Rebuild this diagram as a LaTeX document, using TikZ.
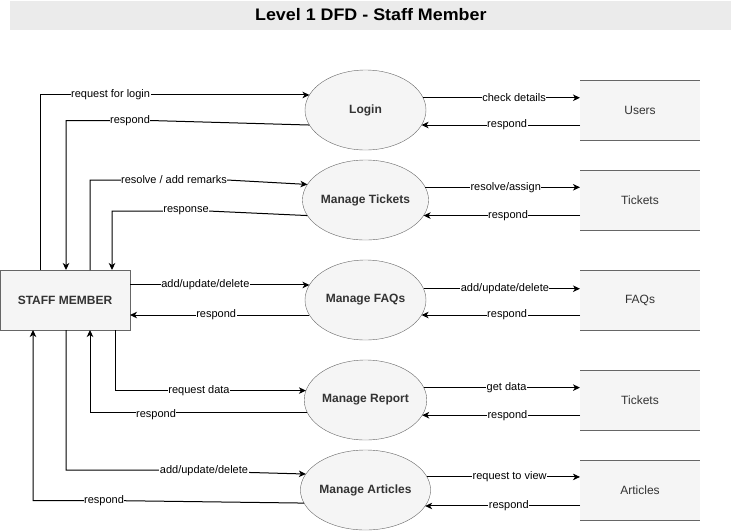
\documentclass[tikz,border=0pt]{standalone}
\usepackage{fontspec}
\setmainfont{Liberation Sans}
\usetikzlibrary{arrows.meta,shapes.geometric}
\definecolor{bord}{HTML}{666666}
\definecolor{fillg}{HTML}{F5F5F5}
\definecolor{txtg}{HTML}{333333}
\definecolor{band}{HTML}{EBEBEB}
\tikzset{
  proc/.style={ellipse, draw=bord, fill=fillg, minimum width=121pt, minimum height=80pt, inner sep=0pt, outer sep=0pt, text=txtg, font=\fontsize{12}{14}\selectfont\bfseries},
  storebox/.style={rectangle, fill=fillg, minimum width=120pt, minimum height=60pt, inner sep=0pt, outer sep=0pt, text=txtg, font=\fontsize{12}{14}\selectfont},
  storeline/.style={draw=bord, line width=1pt},
  entity/.style={rectangle, draw=bord, fill=fillg, minimum width=130pt, minimum height=60pt, inner sep=0pt, outer sep=0pt, text=txtg, font=\fontsize{12}{14}\selectfont\bfseries},
  flow/.style={draw=black, line width=1pt, -{Stealth[length=7pt,width=6.5pt,inset=2pt]}},
  lbl/.style={fill=white, inner sep=0.5pt, text=black, font=\fontsize{11}{12}\selectfont},
}
\begin{document}
\begin{tikzpicture}[x=1pt,y=-1pt]
\useasboundingbox (0,0) rectangle (731,531);
% title band
\node[fill=band, minimum width=721pt, minimum height=29pt, inner sep=0pt, anchor=north west] (title) at (10,1) {};
\node[font=\fontsize{16.7}{18}\selectfont\bfseries, text=black] (titletext) at (370.8,15) {\scalebox{1.07}[1]{Level 1 DFD - Staff Member}};
% entity
\node[entity] (staff) at (65,300) {STAFF MEMBER};
% processes
\node[proc] (login) at (365.5,110) {Login};
\node[proc] (tick) at (365.5,200) {Manage Tickets};
\node[proc] (faq) at (365.5,300) {Manage FAQs};
\node[proc] (rep) at (365.5,400) {Manage Report};
\node[proc] (art) at (365.5,490) {Manage Articles};
% stores
\node[storebox] (users) at (640,110) {Users};
\node[storebox] (tickets) at (640,200) {Tickets};
\node[storebox] (faqs) at (640,300) {FAQs};
\node[storebox] (tickets2) at (640,400) {Tickets};
\node[storebox] (articles) at (640,490) {Articles};
\foreach \s in {users,tickets,faqs,tickets2,articles}{
  \draw[storeline] (\s.north west) -- (\s.north east) (\s.south west) -- (\s.south east);
}
% process <-> store flows
\draw[flow] (login.12.8) -- (login.12.8 -| users.west) node[lbl, pos=0.58] {check details};
\draw[flow] (login.345 -| users.west) -- (login.345) node[lbl, pos=0.46] {respond};
\draw[flow] (tick.12.8) -- (tick.12.8 -| tickets.west) node[lbl, pos=0.52] {resolve/assign};
\draw[flow] (tick.345 -| tickets.west) -- (tick.345) node[lbl, pos=0.46] {respond};
\draw[flow] (faq.11.7) -- (faq.11.7 -| faqs.west) node[lbl, pos=0.52] {add/update/delete};
\draw[flow] (faq.345 -| faqs.west) -- (faq.345) node[lbl, pos=0.46] {respond};
\draw[flow] (rep.12.8) -- (rep.12.8 -| tickets2.west) node[lbl, pos=0.53] {get data};
\draw[flow] (rep.345 -| tickets2.west) -- (rep.345) node[lbl, pos=0.46] {respond};
\draw[flow] (art.12.8) -- (art.12.8 -| articles.west) node[lbl, pos=0.54] {request to view};
\draw[flow] (art.345 -| articles.west) -- (art.345) node[lbl, pos=0.46] {respond};
% staff <-> process flows
\draw[flow] ([xshift=-25pt]staff.north) |- (login.165) node[lbl, pos=0.631] {request for login};
\draw[flow] (login.195) -- (150,120.5) -| ([xshift=1pt]staff.north);
\node[lbl] (l2) at (130,120.5) {respond};
\draw[flow] ([xshift=25pt]staff.north) |- (227,180) -- (tick.165);
\node[lbl] (l3) at (174,180) {resolve / add remarks};
\draw[flow] (tick.195) -- (208,211) -| ([xshift=47pt]staff.north);
\node[lbl] (l4) at (186,211) {response};
\draw[flow] (faq.165 -| staff.east) -- (faq.165) node[lbl, pos=0.42] {add/update/delete};
\draw[flow] (faq.195) -- (faq.195 -| staff.east) node[lbl, pos=0.52] {respond};
\draw[flow] ([xshift=50pt]staff.south) |- (rep.171.3) node[lbl, pos=0.72] {request data};
\draw[flow] (rep.192.8) -| ([xshift=25pt]staff.south);
\node[lbl] (l7) at (156,414.5) {respond};
\draw[flow] ([xshift=1pt]staff.south) |- (160,470) -- (art.165);
\node[lbl] (l8) at (204,471) {add/update/delete};
\draw[flow] (art.192.5) -- (123,500.7) -| ([xshift=-32pt]staff.south);
\node[lbl] (l9) at (104,500.7) {respond};
\end{tikzpicture}
\end{document}
